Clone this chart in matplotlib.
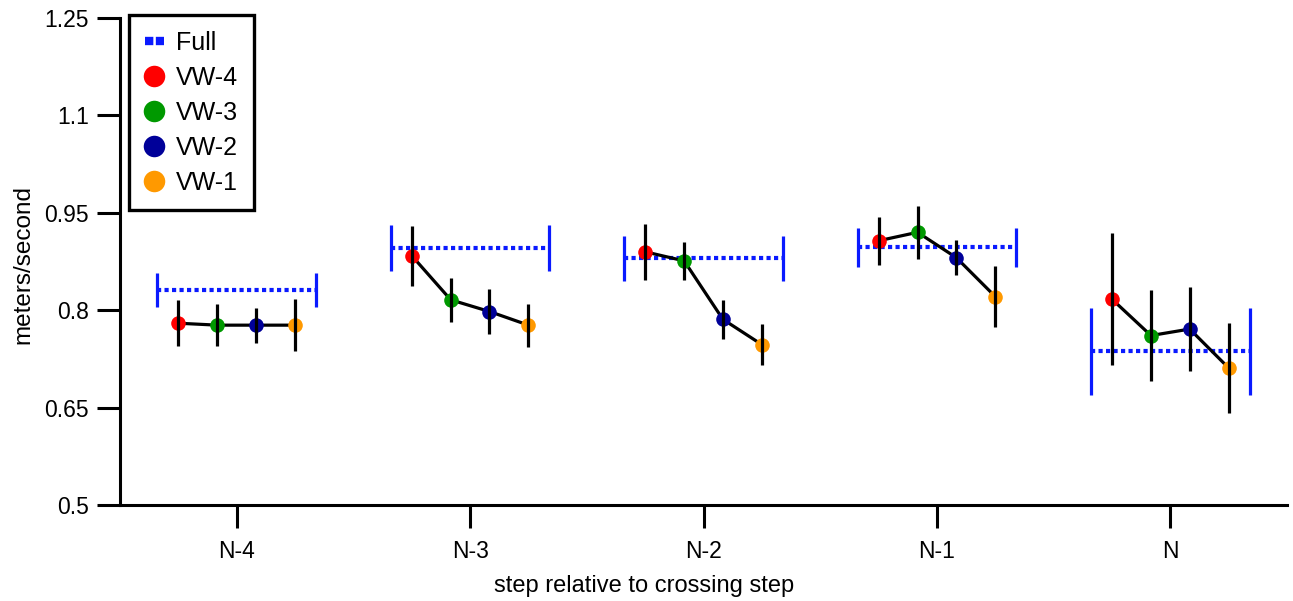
import numpy as np
import matplotlib
matplotlib.use('Agg')
import matplotlib.pyplot as plt
from matplotlib.lines import Line2D

plt.rcParams['font.family'] = ['Liberation Sans', 'DejaVu Sans']

# 데이터
steps = ['N-4', 'N-3', 'N-2', 'N-1', 'N']
full_mean = [0.831, 0.896, 0.880, 0.897, 0.737]
full_err = [0.026, 0.035, 0.035, 0.030, 0.067]

series = ['VW-4', 'VW-3', 'VW-2', 'VW-1']
colors = ['#ff0000', '#009900', '#000099', '#ff9900']
vw_mean = [
    [0.780, 0.777, 0.777, 0.777],   # N-4
    [0.884, 0.816, 0.798, 0.777],   # N-3
    [0.890, 0.876, 0.786, 0.747],   # N-2
    [0.907, 0.920, 0.881, 0.821],   # N-1
    [0.817, 0.761, 0.771, 0.711],   # N
]
vw_err = [
    [0.035, 0.032, 0.027, 0.040],
    [0.046, 0.034, 0.034, 0.033],
    [0.043, 0.029, 0.030, 0.032],
    [0.037, 0.041, 0.027, 0.047],
    [0.102, 0.070, 0.064, 0.070],
]

offsets = [-0.25, -0.083, 0.083, 0.25]
full_half = 0.34
blue = '#0a1aff'

fig = plt.figure(figsize=(12.93, 6.01), dpi=100)
ax = fig.add_axes([0.0928, 0.1597, 0.9026, 0.8103])

x = np.arange(len(steps))

# Full (점선 + 양쪽 세로 막대)
for i in range(len(steps)):
    ax.plot([x[i] - full_half, x[i] + full_half], [full_mean[i], full_mean[i]],
            color=blue, lw=3.0, linestyle=(0, (1, 0.8)), zorder=2)
    for s in (-1, 1):
        ax.plot([x[i] + s * full_half] * 2,
                [full_mean[i] - full_err[i], full_mean[i] + full_err[i]],
                color=blue, lw=2.3, zorder=2, solid_capstyle='butt')

# VW 점 + 연결선 + 오차 막대
for i in range(len(steps)):
    xs = x[i] + np.array(offsets)
    ax.plot(xs, vw_mean[i], color='black', lw=2.3, zorder=3)
    for j in range(len(series)):
        ax.plot(xs[j], vw_mean[i][j], 'o', color=colors[j], ms=10.5,
                mec='none', zorder=4)
        ax.plot([xs[j], xs[j]],
                [vw_mean[i][j] - vw_err[i][j], vw_mean[i][j] + vw_err[i][j]],
                color='black', lw=2.3, zorder=5, solid_capstyle='butt')

ax.set_xlim(-0.5, 4.5)
ax.set_ylim(0.5, 1.25)
ax.set_xticks(x)
ax.set_xticklabels(steps)
ax.set_yticks([0.5, 0.65, 0.8, 0.95, 1.1, 1.25])
ax.set_yticklabels(['0.5', '0.65', '0.8', '0.95', '1.1', '1.25'])

for side in ('top', 'right'):
    ax.spines[side].set_visible(False)
for side in ('left', 'bottom'):
    ax.spines[side].set_linewidth(2.2)
ax.tick_params(direction='out', length=16.5, width=2.2, labelsize=16.5)
ax.tick_params(axis='x', pad=9)
ax.tick_params(axis='y', pad=6)

ax.set_xlabel('step relative to crossing step', fontsize=17)
ax.set_ylabel('meters/second', fontsize=17.5)
ax.xaxis.set_label_coords(0.449, -0.143)
ax.yaxis.set_label_coords(-0.073, 0.493)

# 범례
handles = [Line2D([0], [0], color=blue, lw=6, linestyle=(0, (1, 0.3)))]
for c in colors:
    handles.append(Line2D([0], [0], marker='o', color='none', markerfacecolor=c,
                          markeredgecolor='none', markersize=15.5))
leg = ax.legend(handles, ['Full'] + series, loc='upper left',
                bbox_to_anchor=(0.008, 1.006), fontsize=18, frameon=True,
                fancybox=False, framealpha=1, handlelength=0.75,
                handletextpad=0.5, labelspacing=0.44, borderpad=0.62,
                borderaxespad=0.0)
leg.get_frame().set_edgecolor('black')
leg.get_frame().set_linewidth(2.4)

fig.savefig('out.png', dpi=100)
